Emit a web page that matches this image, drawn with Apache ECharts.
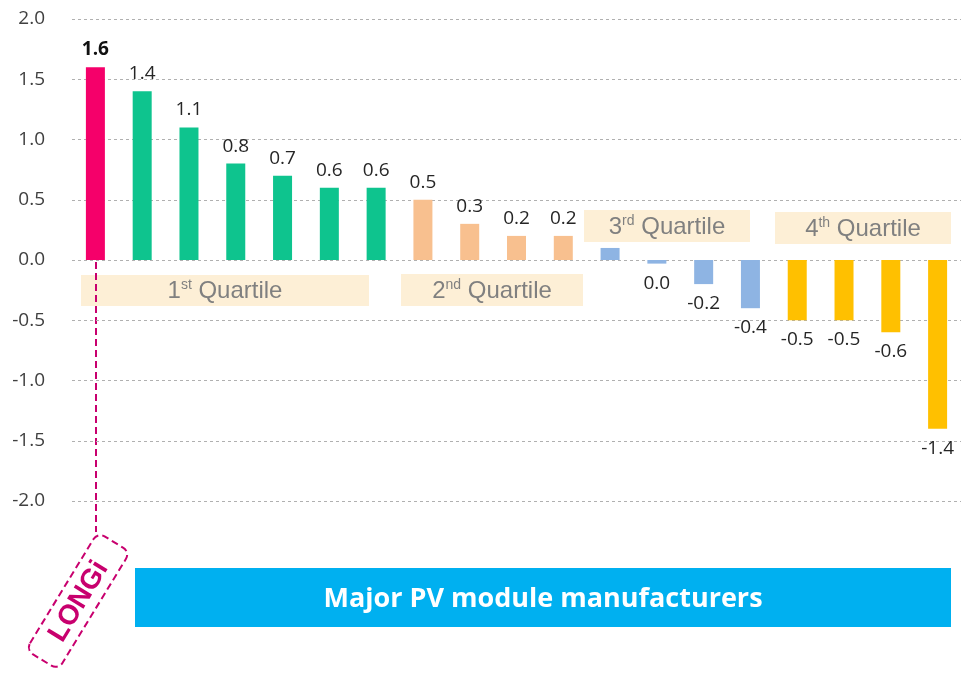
<!DOCTYPE html>
<html>
<head>
<meta charset="utf-8">
<script src="https://cdn.jsdelivr.net/npm/echarts@6/dist/echarts.min.js"></script>
<style>
  html, body { margin: 0; padding: 0; background: #fff; }
  #chart { width: 961px; height: 673px; }
</style>
</head>
<body>
<div id="chart"></div>
<script>
// manufacturers, left to right (first one is LONGi)
var makers = ['LONGi', 'M2', 'M3', 'M4', 'M5', 'M6', 'M7', 'M8', 'M9', 'M10',
  'M11', 'M12', 'M13', 'M14', 'M15', 'M16', 'M17', 'M18', 'M19'];
var values = [1.6, 1.4, 1.1, 0.8, 0.7, 0.6, 0.6, 0.5, 0.3, 0.2, 0.2, 0.1, -0.03,
  -0.2, -0.4, -0.5, -0.5, -0.6, -1.4];
// group of each bar: 0 = LONGi, 1..4 = quartile
var groups = [0, 1, 1, 1, 1, 1, 1, 2, 2, 2, 2, 3, 3, 3, 3, 4, 4, 4, 4];
var groupColors = ['#F5006A', '#0EC48E', '#F8C08F', '#8EB4E3', '#FFC000'];
// label hidden under the 3rd quartile box
var hiddenLabel = [11];

var chart = echarts.init(document.getElementById('chart'));
var FONT = '"Open Sans", "Noto Sans", sans-serif';

function fmt(v) {
  return (Math.round(v * 10) / 10).toFixed(1);
}

var seriesData = values.map(function (v, i) {
  return {
    value: v,
    itemStyle: { color: groupColors[groups[i]] },
    label: {
      show: hiddenLabel.indexOf(i) < 0,
      position: v >= 0 ? 'top' : 'bottom',
      distance: v >= 0 ? 8 : 10,
      fontWeight: i === 0 ? 'bold' : 'normal',
      color: i === 0 ? '#111' : '#262626'
    }
  };
});

function quartileBox(x, y, w, h, num, sup) {
  return {
    type: 'group',
    left: x, top: y,
    children: [
      { type: 'rect', shape: { x: 0, y: 0, width: w, height: h }, style: { fill: '#FDEFD6' } },
      {
        type: 'text', x: w / 2, y: h / 2 + 1,
        style: {
          text: num + '{s|' + sup + '} Quartile',
          align: 'center', verticalAlign: 'middle',
          fill: '#808080', font: '24px Arial, "Liberation Sans", sans-serif',
          rich: { s: { fontSize: 14, verticalAlign: 'top', fill: '#808080', padding: [0, 0, 12, 0] } }
        }
      }
    ]
  };
}

var rot = 58.6 * Math.PI / 180;

var option = {
  animation: false,
  grid: { left: 72, top: 19, width: 891, height: 482, containLabel: false },
  xAxis: {
    type: 'category',
    data: makers,
    axisLine: { show: false },
    axisTick: { show: false },
    axisLabel: { show: false }
  },
  yAxis: {
    type: 'value',
    min: -2, max: 2, interval: 0.5,
    axisLine: { show: false },
    axisTick: { show: false },
    axisLabel: {
      margin: 27,
      fontSize: 19,
      color: '#404040',
      fontFamily: FONT,
      formatter: function (v) { return v.toFixed(1); }
    },
    splitLine: { lineStyle: { color: '#B0B0B0', type: [3, 3], width: 1 } }
  },
  series: [{
    type: 'bar',
    barWidth: 19,
    data: seriesData,
    label: {
      show: true,
      fontSize: 19,
      fontFamily: FONT,
      formatter: function (p) { return fmt(p.value); }
    },
    z: 2
  }],
  graphic: [
    quartileBox(81, 275, 288, 31, '1', 'st'),
    quartileBox(401, 274, 182, 32, '2', 'nd'),
    quartileBox(584, 210, 166, 32, '3', 'rd'),
    quartileBox(775, 212, 176, 32, '4', 'th'),
    {
      type: 'line',
      shape: { x1: 96, y1: 262, x2: 96, y2: 532 },
      style: { stroke: '#C8006E', lineWidth: 2, lineDash: [7, 4] }
    },
    {
      type: 'group',
      x: 78, y: 601,
      rotation: rot,
      children: [
        {
          type: 'rect',
          shape: { x: -69, y: -19, width: 138, height: 38, r: 8 },
          style: { fill: 'transparent', stroke: '#C8006E', lineWidth: 2, lineDash: [7, 4] }
        },
        {
          type: 'text', x: 0, y: 1,
          style: {
            text: 'LONGi', align: 'center', verticalAlign: 'middle',
            fill: '#C8006E', font: 'bold 28px Arial, "Liberation Sans", sans-serif'
          }
        }
      ]
    },
    {
      type: 'group',
      left: 135, top: 568,
      children: [
        { type: 'rect', shape: { x: 0, y: 0, width: 816, height: 59 }, style: { fill: '#00B0F0' } },
        {
          type: 'text', x: 408, y: 31,
          style: {
            text: 'Major PV module manufacturers', align: 'center', verticalAlign: 'middle',
            fill: '#fff', font: 'bold 27px ' + FONT
          }
        }
      ]
    }
  ]
};

chart.setOption(option);
</script>
</body>
</html>
